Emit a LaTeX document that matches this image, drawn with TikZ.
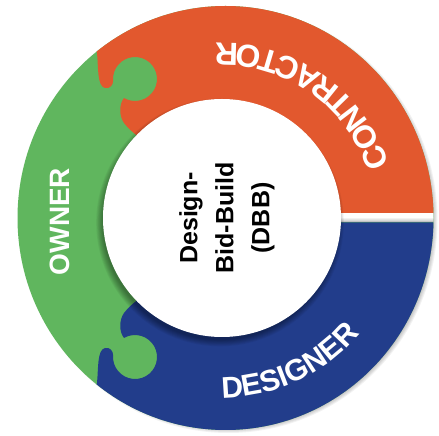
\documentclass[tikz,border=0pt]{standalone}
\usepackage{fontspec}
\setmainfont{Liberation Sans}
\usetikzlibrary{decorations.text}
\definecolor{corange}{RGB}{226,88,46}
\definecolor{cgreen}{RGB}{96,182,94}
\definecolor{cblue}{RGB}{34,61,139}
\def\orangepath{(60,436) -- (92,400) -- (97,383) .. controls (98.5,368) and (97,350) .. (105,348) .. controls (110,347) and (113,351) .. (113.1,355.1) arc[start angle=185, end angle=-120, radius=22] .. controls (119,332) and (119,320) .. (124,313) .. controls (128,308) and (131,305) .. (140,298) -- (222,222.5) -- (460,222.5) -- (460,460) -- (60,460) -- cycle}
\tikzset{
  shade/.style={black,opacity=0.05}
}
\begin{document}
\begin{tikzpicture}[x=1pt,y=1pt]
\useasboundingbox (0,0) rectangle (439,436);
\fill[white] (0,0) rectangle (439,436);
% outer shadow
\foreach \i in {0,...,7} \fill[shade] (228.5,216) ellipse[x radius=202+\i, y radius=206+\i];
% ring
\begin{scope}
  \clip (225.5,218) ellipse[x radius=208, y radius=212];
  \fill[cgreen] (0,0) rectangle (439,436);
  \fill[corange] \orangepath;
  \begin{scope}[yshift=436pt, yscale=-1]
    \fill[cblue] \orangepath;
  \end{scope}
  % gap
  \fill[white] (300,213.5) rectangle (450,222.5);
  \foreach \i in {0,...,4} \fill[shade] (300,213.5) rectangle (450,213.5+4-\i*0.7);
  % inner disk shadow
  \foreach \i in {0,...,7} \fill[shade] (220,213.5) circle[radius=117.5+\i*0.9];
\end{scope}
\node[circle, fill=white, minimum size=238pt, inner sep=0pt] (hub) at (222,218) {};
% labels
\path[decorate, decoration={text along path, text align=center, text color=white,
  text={|\bfseries\fontsize{32}{32}\selectfont|CONTRACTOR}}]
  (222,218) ++(-5:175) arc[start angle=-5, end angle=115, radius=175];
\path[decorate, decoration={text along path, text align=center, text color=white,
  text={|\bfseries\fontsize{30}{30}\selectfont|DESIGNER}}]
  (222,218) ++(-125:180) arc[start angle=-125, end angle=-5, radius=180];
\node[rotate=90, text=white, font=\bfseries\fontsize{28}{28}\selectfont, inner sep=0pt] (owner) at (60,214.5) {OWNER};
\node[rotate=90, align=center, font=\bfseries\fontsize{25}{36}\selectfont, inner sep=0pt] (dbb) at (227,218) {Design-\\Bid-Build\\(DBB)};
\end{tikzpicture}
\end{document}
